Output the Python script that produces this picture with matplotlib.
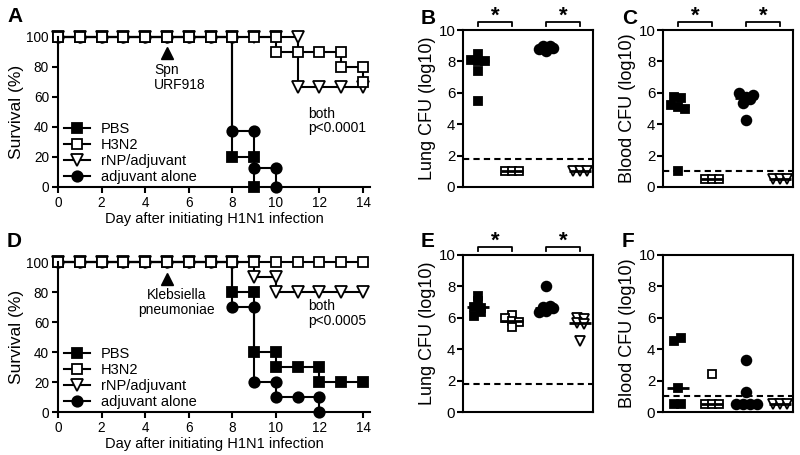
import matplotlib
matplotlib.use('Agg')
import matplotlib.pyplot as plt
import numpy as np

plt.rcParams['font.family'] = ['Liberation Sans', 'DejaVu Sans']

# ---------------- Survival data (step vertices) ----------------
a_pbs_days = [0, 1, 2, 3, 4, 5, 6, 7, 8, 8, 9, 9]
a_pbs_surv = [100, 100, 100, 100, 100, 100, 100, 100, 100, 20, 20, 0]
a_h3n2_days = [0, 1, 2, 3, 4, 5, 6, 7, 8, 9, 10, 10, 11, 12, 13, 13, 14, 14]
a_h3n2_surv = [100, 100, 100, 100, 100, 100, 100, 100, 100, 100, 100, 90, 90, 90, 90, 80, 80, 70]
a_rnp_days = [0, 1, 2, 3, 4, 5, 6, 7, 8, 9, 10, 11, 11, 12, 13, 14]
a_rnp_surv = [100, 100, 100, 100, 100, 100, 100, 100, 100, 100, 100, 100, 66.7, 66.7, 66.7, 66.7]
a_adj_days = [0, 1, 2, 3, 4, 5, 6, 7, 8, 8, 9, 9, 10, 10]
a_adj_surv = [100, 100, 100, 100, 100, 100, 100, 100, 100, 37.5, 37.5, 12.5, 12.5, 0]

d_pbs_days = [0, 1, 2, 3, 4, 5, 6, 7, 8, 8, 9, 9, 10, 10, 11, 12, 12, 13, 14]
d_pbs_surv = [100, 100, 100, 100, 100, 100, 100, 100, 100, 80, 80, 40, 40, 30, 30, 30, 20, 20, 20]
d_h3n2_days = [0, 1, 2, 3, 4, 5, 6, 7, 8, 9, 10, 11, 12, 13, 14]
d_h3n2_surv = [100, 100, 100, 100, 100, 100, 100, 100, 100, 100, 100, 100, 100, 100, 100]
d_rnp_days = [0, 1, 2, 3, 4, 5, 6, 7, 8, 9, 9, 10, 10, 11, 12, 13, 14]
d_rnp_surv = [100, 100, 100, 100, 100, 100, 100, 100, 100, 100, 90, 90, 80, 80, 80, 80, 80]
d_adj_days = [0, 1, 2, 3, 4, 5, 6, 7, 8, 8, 9, 9, 10, 10, 11, 12, 12]
d_adj_surv = [100, 100, 100, 100, 100, 100, 100, 100, 100, 70, 70, 20, 20, 10, 10, 10, 0]

group_names = ['PBS', 'H3N2', 'rNP/adjuvant', 'adjuvant alone']

# ---------------- CFU data (log10) ----------------
# order of columns: PBS, H3N2, adjuvant alone, rNP/adjuvant
b_pbs = [8.5, 8.1, 8.0, 8.05, 7.4, 5.5]
b_h3n2 = [1.0, 1.0, 1.0]
b_adj = [8.8, 8.65, 8.85, 9.0, 9.0]
b_rnp = [1.0, 1.0, 1.0]
b_limit = 1.8

c_pbs = [5.75, 5.65, 5.2, 5.1, 4.95, 1.0]
c_h3n2 = [0.5, 0.5, 0.5]
c_adj = [6.0, 5.75, 5.85, 5.35, 5.6, 4.25]
c_rnp = [0.5, 0.5, 0.5]
c_limit = 1.0

e_pbs = [7.4, 6.7, 6.65, 7.05, 6.1, 6.35]
e_h3n2 = [6.2, 6.0, 5.8, 5.75, 5.4]
e_adj = [8.0, 6.7, 6.35, 6.45, 6.75, 6.6]
e_rnp = [6.0, 5.9, 5.7, 5.6, 4.5]
e_limit = 1.8

f_pbs = [4.55, 4.7, 1.5, 0.5, 0.5]
f_h3n2 = [2.4, 0.5, 0.5, 0.5]
f_adj = [3.3, 1.3, 0.5, 0.5, 0.5, 0.5]
f_rnp = [0.5, 0.5, 0.5]
f_limit = 1.05

W, H = 800, 455
fig = plt.figure(figsize=(8, 4.55), dpi=100)

def ax_px(x0, y0, x1, y1):
    return fig.add_axes([x0 / W, 1 - y1 / H, (x1 - x0) / W, (y1 - y0) / H])

LW = 1.5
styles = {
    'PBS': dict(marker='s', mfc='black', mec='black'),
    'H3N2': dict(marker='s', mfc='white', mec='black'),
    'rNP/adjuvant': dict(marker='v', mfc='white', mec='black'),
    'adjuvant alone': dict(marker='o', mfc='black', mec='black'),
}

def survival_panel(ax, series, arrow_text, arrow_ha, arrow_x, ptext, ptext_y, label_y):
    handles = {}
    for name in ['adjuvant alone', 'PBS', 'rNP/adjuvant', 'H3N2']:
        dd, ss = series[name]
        st = styles[name]
        ms = 7.5 if st['marker'] != 'v' else 8.5
        h, = ax.plot(dd, ss, color='black', lw=LW, ms=ms, mew=1.3, clip_on=False, **st)
        handles[name] = h
    ax.set_xlim(0, 14.32)
    ax.set_ylim(0, 100)
    ax.set_xticks(range(0, 15, 2))
    ax.set_yticks(range(0, 101, 20))
    for s in ['top', 'right']:
        ax.spines[s].set_visible(False)
    for s in ['left', 'bottom']:
        ax.spines[s].set_linewidth(LW)
    ax.tick_params(direction='out', length=4, width=LW, labelsize=9.8, pad=2.5)
    ax.set_ylabel('Survival (%)', fontsize=12.5, labelpad=2)
    ax.set_xlabel('Day after initiating H1N1 infection', fontsize=10.5, labelpad=1.5)
    ax.plot([5], [89], marker='^', ms=9, color='black', ls='none', clip_on=False)
    ax.text(arrow_x, 73, arrow_text, ha=arrow_ha, va='center', fontsize=10,
            linespacing=1.05, multialignment=arrow_ha)
    ax.text(11.5, ptext_y, ptext, ha='left', va='center', fontsize=10, linespacing=1.05)
    ax.legend([handles[n] for n in group_names], group_names, loc='center left',
              bbox_to_anchor=(0.02, label_y), frameon=False, fontsize=10.5,
              handlelength=1.8, handletextpad=0.7, labelspacing=0.14,
              borderpad=0, borderaxespad=0)
    return ax

axA = ax_px(58, 37, 370, 187)
survival_panel(axA, {'PBS': (a_pbs_days, a_pbs_surv), 'H3N2': (a_h3n2_days, a_h3n2_surv),
                     'rNP/adjuvant': (a_rnp_days, a_rnp_surv), 'adjuvant alone': (a_adj_days, a_adj_surv)},
               'Spn\nURF918', 'left', 4.4, 'both\np<0.0001', 44, 0.225)
axD = ax_px(58, 262, 370, 412)
survival_panel(axD, {'PBS': (d_pbs_days, d_pbs_surv), 'H3N2': (d_h3n2_days, d_h3n2_surv),
                     'rNP/adjuvant': (d_rnp_days, d_rnp_surv), 'adjuvant alone': (d_adj_days, d_adj_surv)},
               'Klebsiella\npneumoniae', 'center', 5.45, 'both\np<0.0005', 65.5, 0.225)

# ---------------- dot plots ----------------
XPX = 34.5   # px per x unit
YPX = 15.7   # px per y unit
ROW = 0.3    # y-units grouped in one row
SPACE = 7.0  # px between neighbours in a row

def swarm(vals):
    vals = np.asarray(vals, float)
    order = np.argsort(vals, kind='stable')
    offs = np.zeros(len(vals))
    rows = []
    for idx in order:
        if rows and vals[idx] - vals[rows[-1][0]] < ROW:
            rows[-1].append(idx)
        else:
            rows.append([idx])
    for row in rows:
        row = sorted(row)
        n = len(row)
        for k, idx in enumerate(row):
            offs[idx] = (k - (n - 1) / 2) * SPACE / XPX
    return offs

dot_styles = [
    dict(marker='s', mfc='black', mec='black', ms=6.3),
    dict(marker='s', mfc='white', mec='black', ms=6.3),
    dict(marker='o', mfc='black', mec='black', ms=7),
    dict(marker='v', mfc='white', mec='black', ms=7.3),
]

def dot_panel(ax, groups, limit, ylabel, stars):
    for i, (vals, st) in enumerate(zip(groups, dot_styles)):
        pos = i + 1
        offs = swarm(vals)
        ax.plot(pos + offs, vals, ls='none', mew=1.3, clip_on=False, **st)
        med = np.median(vals)
        ax.plot([pos - 0.32, pos + 0.32], [med, med], color='black', lw=2, solid_capstyle='butt')
    ax.axhline(limit, color='black', lw=1.5, ls=(0, (3, 2)))
    ax.set_xlim(0.57, 4.37)
    ax.set_ylim(0, 10)
    ax.set_yticks(range(0, 11, 2))
    ax.set_xticks([])
    for s in ax.spines.values():
        s.set_linewidth(LW)
    ax.tick_params(axis='y', direction='out', length=4, width=LW, labelsize=10.8, pad=1.5)
    ax.set_ylabel(ylabel, fontsize=13, labelpad=2)
    if stars:
        for a, b in [(1, 2), (3, 4)]:
            ax.plot([a, a, b, b], [10.27, 10.52, 10.52, 10.27], color='black', lw=1.3, clip_on=False)
            ax.text((a + b) / 2, 10.55, '*', ha='center', va='baseline', fontsize=16,
                    fontweight='bold', clip_on=False)

axB = ax_px(463, 30, 593, 187)
dot_panel(axB, [b_pbs, b_h3n2, b_adj, b_rnp], b_limit, 'Lung CFU (log10)', True)
axC = ax_px(663, 30, 793, 187)
dot_panel(axC, [c_pbs, c_h3n2, c_adj, c_rnp], c_limit, 'Blood CFU (log10)', True)
axE = ax_px(463, 255, 593, 412)
dot_panel(axE, [e_pbs, e_h3n2, e_adj, e_rnp], e_limit, 'Lung CFU (log10)', True)
axF = ax_px(663, 255, 793, 412)
dot_panel(axF, [f_pbs, f_h3n2, f_adj, f_rnp], f_limit, 'Blood CFU (log10)', False)

for lab, x, y in [('A', 7, 7), ('B', 421, 9), ('C', 622, 9), ('D', 7, 232), ('E', 421, 232), ('F', 622, 232)]:
    fig.text(x / W, 1 - y / H, lab, fontsize=15, fontweight='bold', ha='left', va='top')

fig.savefig('out.png', dpi=100)
